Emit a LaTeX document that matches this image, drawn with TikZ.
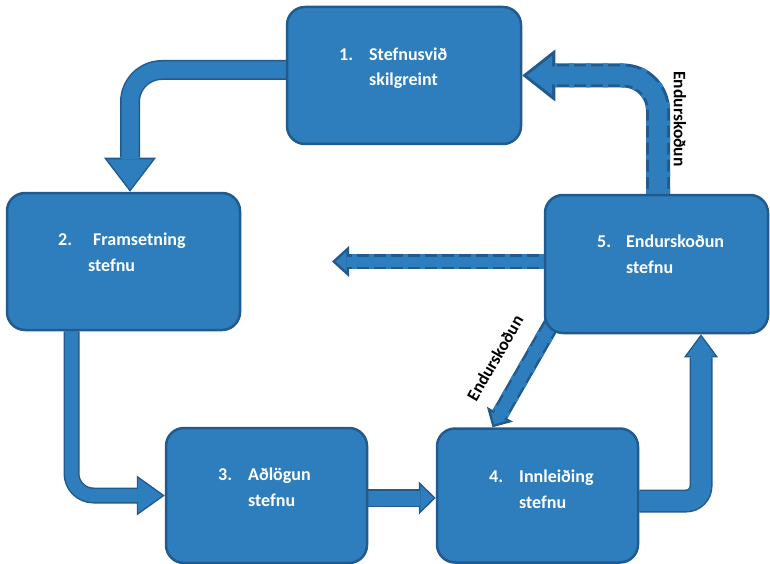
\documentclass[tikz,border=0pt]{standalone}
\usepackage{fontspec}
\setmainfont{Carlito}
\usetikzlibrary{arrows.meta,positioning,calc,backgrounds}
\definecolor{boxblue}{RGB}{46,126,190}
\definecolor{boxline}{RGB}{33,90,140}
\tikzset{
  stepbox/.style={rectangle, rounded corners=18pt, draw=boxline, line width=2.5pt, fill=boxblue},
  steptext/.style={text=white, font=\bfseries\fontsize{18}{25.5}\selectfont, align=left,
    inner sep=0pt, anchor=base west},
  revlabel/.style={text=black, font=\bfseries\fontsize{17.5}{20}\selectfont, inner sep=0pt},
  arrowout/.style n args={3}{draw=boxline, line width=#1,
    -{Triangle[length=#2, width=#3, line width=0pt]}},
  arrowin/.style n args={5}{draw=boxblue, line width=#1, shorten >=#4,
    -{Triangle[length=#2, width=#3, scale=#5, line width=0pt]}},
  dashgap/.style={draw=boxblue, dash pattern=on 5pt off 12pt}
}

\begin{document}
\begin{tikzpicture}[x=1pt, y=-1pt]
\useasboundingbox (0,0) rectangle (770,564);
% the five steps
\node[stepbox, minimum width=234pt, minimum height=137pt] (b1) at (404,75.5) {};
\node[stepbox, minimum width=233pt, minimum height=137pt] (b2) at (123.5,261.5) {};
\node[stepbox, minimum width=201pt, minimum height=135pt] (b3) at (266.5,495.5) {};
\node[stepbox, minimum width=201pt, minimum height=134pt] (b4) at (537.5,495.5) {};
\node[stepbox, minimum width=223pt, minimum height=138pt] (b5) at (656.5,264) {};
\node[steptext] (t1) at (339,86) {\makebox[30pt][l]{1.}Stefnusvið\\\hspace*{30pt}skilgreint};
\node[steptext] (t2) at (58,271) {\makebox[35pt][l]{2.}Framsetning\\\hspace*{30pt}stefnu};
\node[steptext] (t3) at (218,506) {\makebox[30pt][l]{3.}Aðlögun\\\hspace*{30pt}stefnu};
\node[steptext] (t4) at (489,508) {\makebox[30pt][l]{4.}Innleiðing\\\hspace*{30pt}stefnu};
\node[steptext] (t5) at (597,273) {\makebox[29pt][l]{5.}Endurskoðun\\\hspace*{29pt}stefnu};
\coordinate (fend) at (332,261.5);
\coordinate (gstart) at ($(b5.south west)+(10,-14)$);
% block arrows
\begin{scope}[on background layer]
\draw[arrowout={20pt}{34pt}{52pt}, rounded corners=32pt] ([yshift=5.5pt]b1.west) -| ([xshift=6.5pt]b2.north);
\draw[arrowin={17pt}{34pt}{52pt}{2.5pt}{0.88}, rounded corners=32pt] ([yshift=5.5pt]b1.west) -| ([xshift=6.5pt]b2.north);
\draw[arrowout={16pt}{28pt}{40pt}, rounded corners=22pt] ([xshift=-52pt]b2.south) |- (b3.west);
\draw[arrowin={13pt}{28pt}{40pt}{2.6pt}{0.855}, rounded corners=22pt] ([xshift=-52pt]b2.south) |- (b3.west);
\draw[arrowout={18pt}{17pt}{33pt}] ([yshift=-2.5pt]b3.east) -- ([yshift=-2.5pt]b4.west);
\draw[arrowin={15pt}{17pt}{33pt}{2.2pt}{0.78}] ([yshift=-2.5pt]b3.east) -- ([yshift=-2.5pt]b4.west);
\draw[arrowout={23pt}{23pt}{34pt}, rounded corners=15pt] ([yshift=-5.5pt]b4.east) -| ([xshift=44.5pt]b5.south);
\draw[arrowin={20pt}{23pt}{34pt}{2.5pt}{0.83}, rounded corners=15pt] ([yshift=-5.5pt]b4.east) -| ([xshift=44.5pt]b5.south);
% dashed review arrows
\draw[arrowout={24pt}{33pt}{52pt}, rounded corners=35pt] ([xshift=1.5pt]b5.north) |- (b1.east);
\draw[dashgap, line width=24pt, shorten >=33pt, rounded corners=35pt] ([xshift=1.5pt]b5.north) |- (b1.east);
\draw[arrowin={18pt}{33pt}{52pt}{4.9pt}{0.76}, rounded corners=35pt] ([xshift=1.5pt]b5.north) |- (b1.east);
\draw[arrowout={15pt}{17pt}{31pt}] ([yshift=2.5pt]b5.west) -- (fend);
\draw[dashgap, line width=15pt, shorten >=17pt] ([yshift=2.5pt]b5.west) -- (fend);
\draw[arrowin={10pt}{17pt}{31pt}{3.7pt}{0.64}] ([yshift=2.5pt]b5.west) -- (fend);
\draw[arrowout={17pt}{15pt}{30pt}] (gstart) -- ([xshift=-45pt]b4.north);
\draw[dashgap, line width=17pt, shorten >=15pt] (gstart) -- ([xshift=-45pt]b4.north);
\draw[arrowin={12pt}{15pt}{30pt}{3.5pt}{0.6}] (gstart) -- ([xshift=-45pt]b4.north);
\end{scope}
\node[revlabel, rotate=-90] (l1) at (680,119) {Endurskoðun};
\node[revlabel, rotate=60] (l2) at (495,358) {Endurskoðun};
\end{tikzpicture}
\end{document}
